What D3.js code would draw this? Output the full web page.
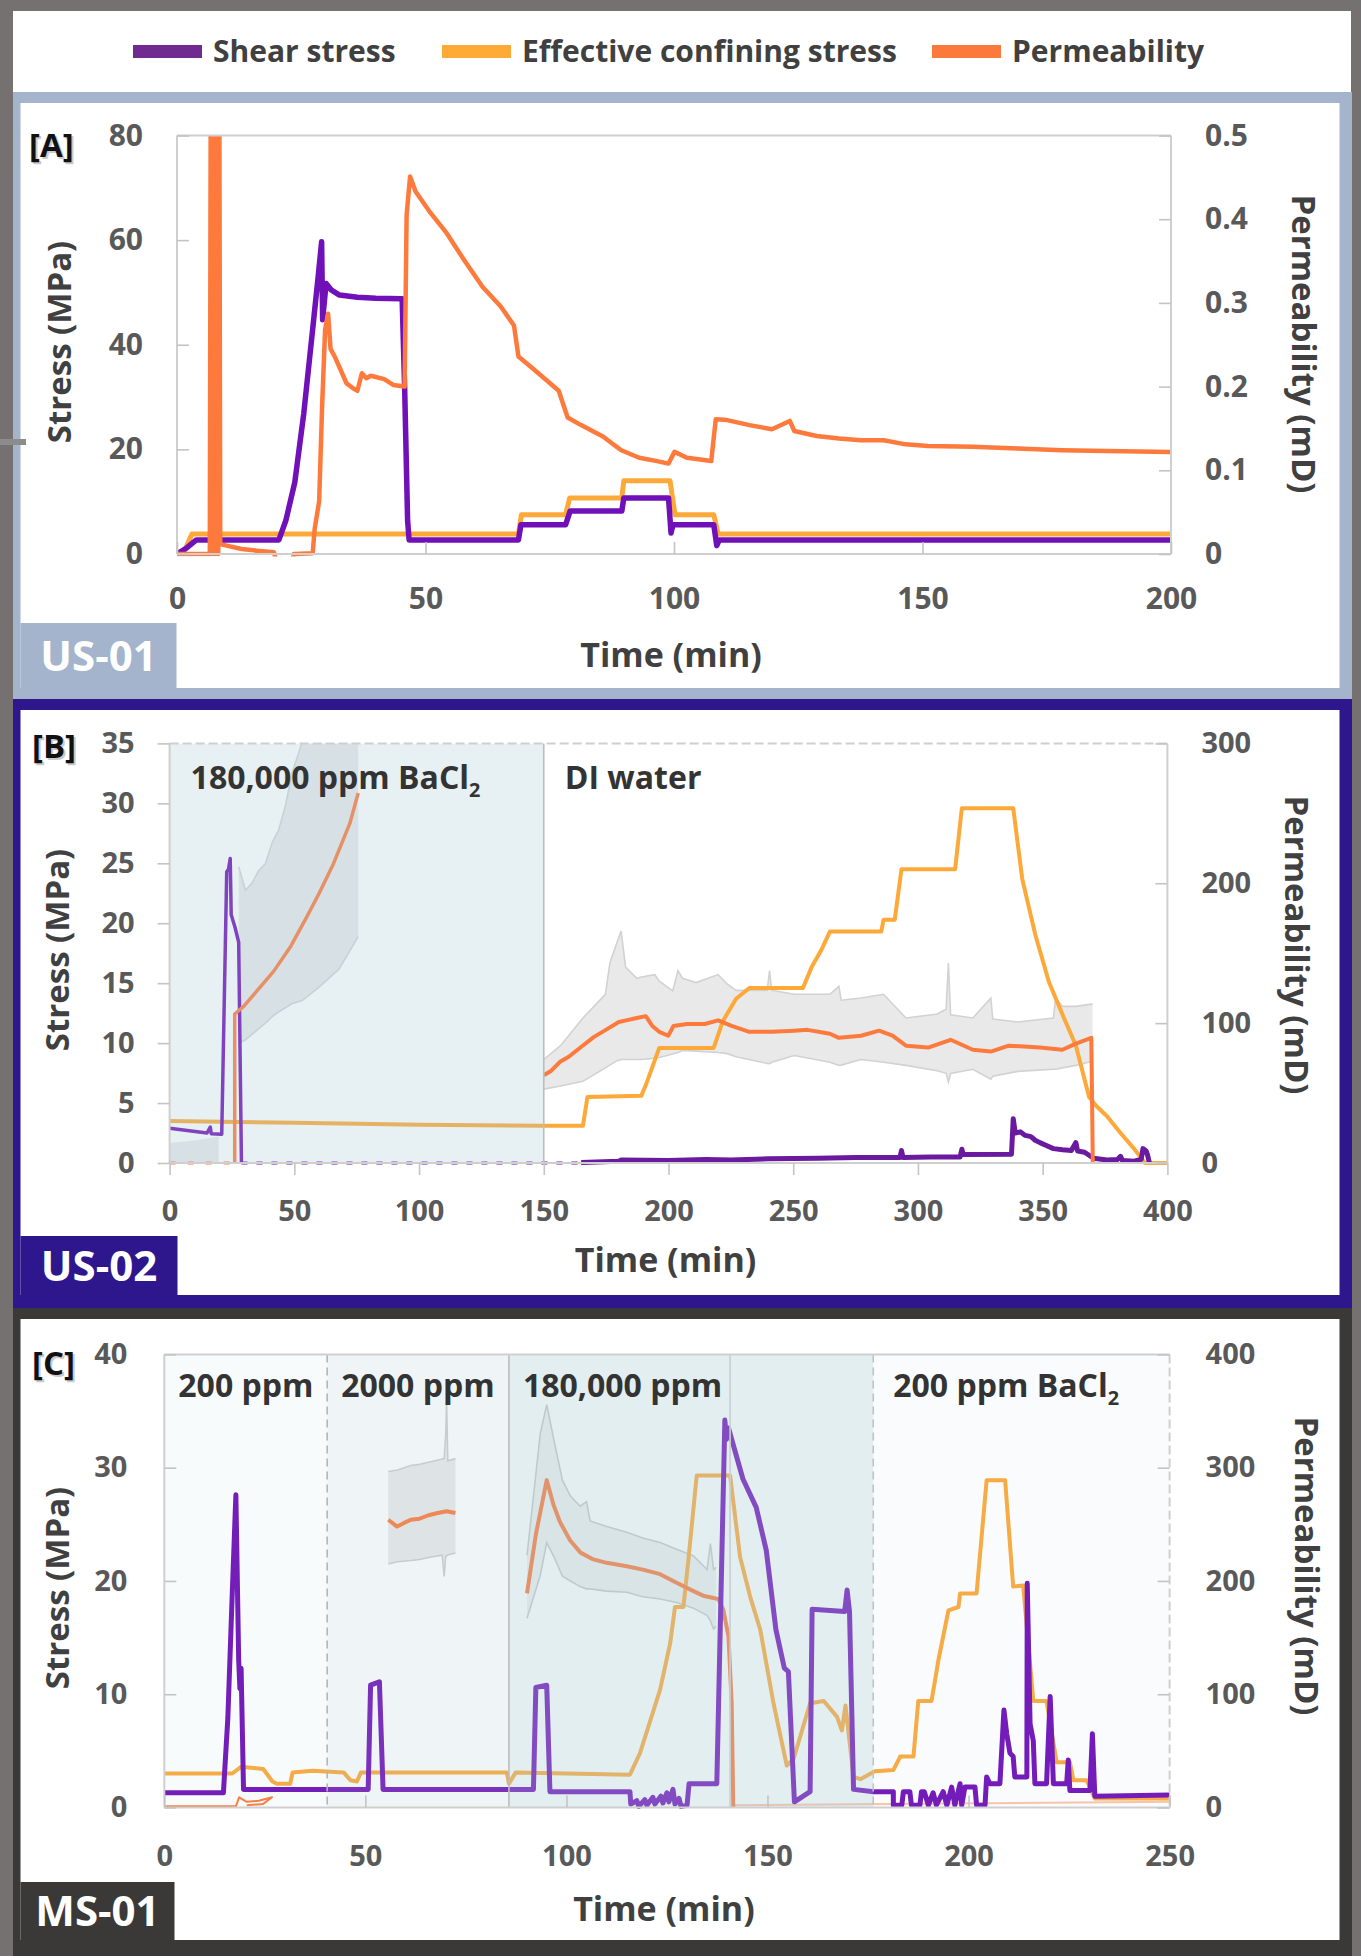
<!DOCTYPE html>
<html>
<head>
<meta charset="utf-8">
<script src="https://cdn.jsdelivr.net/npm/d3@7"></script>
<style>
  body { margin: 0; background: #767171; }
  text { font-family: "Open Sans", "DejaVu Sans", sans-serif; }
</style>
</head>
<body>
<svg id="fig"></svg>
<script>
// ---- data (time in min, stress in MPa, permeability in mD) ----
var legendLabels = ["Shear stress", "Effective confining stress", "Permeability"];
var legendColors = ["#712a8f", "#fdaa37", "#fb7a3b"];

// [A] US-01
var aXTicks = [0, 50, 100, 150, 200];
var aYTicks = [0, 20, 40, 60, 80];
var aY2Ticks = [0, 0.1, 0.2, 0.3, 0.4, 0.5];
var aShear = [[0,0],[2,1.2],[3.9,2.7],[20.5,2.7],[21.9,6.4],[23.7,13.7],[25.5,26.8],[27.3,43],[28.4,53],[29.1,59.7],[29.3,44.8],[30,51.7],[31,50.5],[32.7,49.5],[36.3,49.1],[40,48.9],[45.3,48.8],[45.8,32],[46.4,6.4],[46.7,2.7],[68.7,2.7],[69.2,5.6],[78.2,5.6],[79.1,8.2],[89.5,8.2],[89.9,10.7],[98.9,10.7],[99.4,4.0],[99.8,5.6],[108,5.6],[108.6,1.6],[109.1,2.7],[200,2.7]];
var aConfining = [[0,0],[1.5,0.6],[3,3.8],[68.7,3.8],[69.3,7.5],[78.2,7.5],[79,10.7],[89.5,10.7],[89.9,14],[99.2,14],[100.2,7.5],[108,7.5],[108.9,3.8],[200,3.8]];
var aPerm = [[0,0],[6.6,0],[6.8,0.6],[7.1,0],[7.4,0.6],[7.7,0],[8.0,0.6],[8.3,0],[8.5,0.6],[8.7,0.012],[10,0.01],[13,0.006],[16,0.004],[19.5,0.002],[20.5,-0.02],[23,-0.02],[23.5,0],[27.3,0.001],[27.7,0.03],[28.6,0.063],[29.2,0.177],[29.8,0.268],[30.4,0.287],[30.9,0.245],[31.8,0.235],[32.7,0.223],[34.1,0.204],[35.4,0.198],[36.3,0.195],[37.2,0.216],[38.1,0.21],[39,0.213],[41.7,0.209],[43.5,0.202],[45.8,0.2],[46.2,0.405],[46.9,0.451],[48,0.433],[50.7,0.41],[54.3,0.383],[57.9,0.35],[61.5,0.319],[65.1,0.296],[67.8,0.273],[68.7,0.236],[72.3,0.218],[76.8,0.195],[78.6,0.163],[81.3,0.154],[85.8,0.14],[88,0.13],[89.4,0.124],[93,0.115],[96.6,0.111],[98.9,0.108],[100.1,0.122],[102.6,0.115],[105.3,0.113],[107.5,0.111],[108.4,0.161],[110.7,0.16],[115.2,0.154],[119.7,0.149],[123.3,0.159],[124.2,0.147],[128.7,0.141],[133.2,0.138],[137.6,0.136],[142.2,0.136],[146.6,0.131],[151.1,0.129],[160.1,0.128],[169.1,0.126],[178.1,0.124],[187.1,0.123],[200,0.122]];

// [B] US-02
var bXTicks = [0, 50, 100, 150, 200, 250, 300, 350, 400];
var bYTicks = [0, 5, 10, 15, 20, 25, 30, 35];
var bY2Ticks = [0, 100, 200, 300];
var bRegionBounds = [0, 150, 400];
var bRegionLabels = ["180,000 ppm BaCl", "DI water"];
var bRegionSubs = ["2", ""];
var bShearBrine = [[0,2.9],[15,2.5],[16.3,3.0],[16.7,2.45],[20.9,2.4],[22.9,24.3],[23.6,24.5],[24.3,25.4],[24.7,20.7],[26.3,19.6],[27.7,18.4],[28.8,0]];
var bShearZero = [[28.8,0],[165,0]];
var bShearDI = [[165,0.05],[180,0.15],[181,0.25],[200,0.2],[215,0.3],[225,0.25],[240,0.35],[260,0.4],[275,0.45],[292.8,0.45],[293.4,1.05],[294,0.45],[305,0.5],[316.9,0.5],[317.6,1.15],[318.2,0.7],[337.5,0.73],[338.2,3.7],[339,2.5],[341,2.6],[343,2.3],[345.3,2.2],[347,1.9],[348.9,1.7],[351,1.5],[354.3,1.2],[358,1.1],[361.5,1.05],[363.3,1.7],[364,1.0],[366.8,0.9],[370.4,0.4],[375.8,0.25],[380,0.3],[381.2,0.56],[382,0.2],[386.6,0.15],[389.5,0.3],[390.2,1.2],[391.5,1.0],[392,0.7],[392.8,0]];
var bConfining = [[0,3.5],[50,3.35],[100,3.2],[150,3.1],[165.7,3.1],[167.5,5.5],[189.1,5.6],[190.9,6.5],[196.3,9.6],[218.1,9.6],[221.7,11.8],[227.1,13.7],[232.4,14.6],[253.9,14.6],[257.5,16.4],[261.1,17.7],[264.7,19.3],[285.3,19.3],[286.2,20.3],[290.7,20.3],[293.4,24.5],[314.9,24.5],[317.6,29.6],[338.2,29.6],[341.8,23.7],[347.1,19],[352.5,15.1],[357.9,12.4],[363.3,9.8],[368.6,5.5],[371.3,4.8],[375.8,3.9],[381.2,2.5],[386.6,1.2],[391,0],[400,0]];
var bPermZero = [[0,0],[26.1,0]];
var bPermBrine = [[26.1,0],[26.1,106.5],[29.7,112],[35,123],[41.7,137],[48.6,155],[55,176],[60,193],[65.7,214],[72.3,243],[75.6,264.5]];
var bPermDI = [[150,62.7],[153,66],[156.7,72.6],[160,76],[165.7,84],[170,90],[174.7,95],[180.1,100.8],[183,102],[187.3,103.7],[190.9,105],[193.5,98],[196.3,93.8],[199.9,91],[202,98],[207.4,99.4],[214.5,99.4],[219.9,102],[225.3,98],[232.4,93.8],[241.4,93.8],[250.4,94.6],[255.7,95.2],[264.7,92.4],[268.3,89.5],[277.2,91],[284.4,94.6],[289.8,91],[295.2,83.9],[304.1,82.5],[313.1,88.1],[322,81],[329.2,79.7],[336.4,83.9],[348.9,82.5],[357.9,81],[363.3,85.3],[369.5,89.5],[370.1,0]];
// permeability bands: [t, lower, upper]
var bBandZero = [[0,0,14.3],[10,0,16],[19.7,0,19]];
var bBandBrine = [[27.7,85.6,211.8],[30.4,88,195],[33,92,200],[35.7,96,209],[38.4,100,214],[41.1,104.7,229],[43.7,108,238],[46.4,111,255],[49.1,114,279],[53,116,300],[54.5,118,320],[60,126,340],[67.9,138.6,350],[75.6,161.8,350]];
var bBandDI = [[150,52.8,74],[156.7,55,83.9],[165.7,58.5,103.7],[174.7,68,120.6],[176.5,70,143],[179.2,73,157],[181,74,165.8],[182.8,74,140],[187.3,74,132],[189.1,74,133],[194.5,75,134.7],[196.3,75.4,130],[201.7,78,123],[203.8,79,137.6],[205.6,80.5,132],[211,80,129],[219.9,79,134.7],[223.5,78.2,128],[227.1,76,123.4],[239.6,71.2,123.4],[240.5,71,137.6],[241.4,72,123.4],[250.4,76.8,120.6],[264.7,72,120.6],[268.3,69.8,126.3],[269.2,70,116.4],[277.2,74,118],[286.2,72,120.6],[295.2,69.8,103.7],[307.7,66,106.5],[311.3,64.1,110],[312.2,58,143],[313.1,64,106],[322,67,103.7],[329.2,59.9,117.8],[330,62,103],[340,65.5,100.8],[354.3,67,103.7],[355.2,67,117.8],[357.9,68,112],[363.3,69.8,112],[369.5,72.6,113.6],[370,72.6,113.6]];

// [C] MS-01
var cXTicks = [0, 50, 100, 150, 200, 250];
var cYTicks = [0, 10, 20, 30, 40];
var cY2Ticks = [0, 100, 200, 300, 400];
var cRegionBounds = [0, 40.5, 85.7, 176.3, 250];
var cRegionLabels = ["200 ppm", "2000 ppm", "180,000 ppm", "200 ppm BaCl"];
var cRegionSubs = ["", "", "", "2"];
var cShear = [[0,1.3],[14.7,1.3],[15.8,7.9],[16.9,18.9],[17.8,27.6],[18.5,13],[18.8,10.5],[19.1,12.3],[19.7,1.6],[50.7,1.6],[51.3,10.8],[53.5,11.1],[54.4,1.6],[91.8,1.6],[92.4,10.6],[95.1,10.8],[95.9,1.4],[115.8,1.4],[116,0.3],[117.5,0.6],[118,0.1],[119.5,0.7],[120,0.2],[121.5,0.9],[122,0.3],[123.5,1.0],[124,0.4],[125,1.3],[125.5,0.5],[126.5,1.6],[127,0.3],[128,0.8],[128.5,0.1],[130,0.2],[130.5,2.1],[137.4,2.1],[139.4,34.2],[139.8,32.5],[140.3,33.5],[143.9,29],[147.2,26.5],[149.7,22.7],[152.1,15.7],[154.2,12.3],[155.2,12],[156.7,0.5],[160.6,1.4],[161.1,17.5],[169.2,17.3],[169.8,19.2],[170.4,17.3],[171.4,1.6],[176.4,1.4],[181.3,1.4],[181.3,0.2],[183.4,0.2],[183.8,1.4],[185.4,1.4],[185.8,0.2],[187.9,0.2],[188.3,1.4],[189,1.4],[190,0.2],[191.2,1.3],[192,0.2],[193.7,1.4],[194.6,0.2],[195.8,1.8],[196.6,0.2],[197.9,2.1],[198.3,0.2],[199.1,1.8],[201.6,1.8],[202,0.2],[204.1,0.2],[204.5,2.7],[205.3,2.1],[207.8,2.1],[208.8,8.6],[209.5,6.5],[210.3,4.8],[211.1,4.5],[211.5,2.7],[214.5,2.7],[214.6,19.8],[215.3,7.4],[216.1,5.9],[216.5,2.1],[219.4,2.1],[220.3,9.8],[221.1,2.1],[224.4,2.1],[224.8,4.2],[225.2,1.5],[230.2,1.5],[230.8,6.5],[231.4,1.0],[250,1.1]];
var cConfining = [[0,3.0],[16.9,3.0],[19.1,3.6],[24.6,3.4],[26.9,2.3],[28,2.1],[31.3,2.1],[31.9,3.1],[36.9,3.25],[44.6,3.1],[46.3,2.4],[47.9,2.3],[48.9,3.1],[85.2,3.1],[85.7,2.1],[87.4,3.1],[115.8,2.9],[118.3,4.8],[123.3,10.4],[125.8,14.5],[127,17.7],[129.1,17.7],[130.4,22.1],[132.4,29.3],[140.7,29.3],[143.2,22.1],[145.7,18.6],[148.2,15.7],[151.5,9.2],[154.8,3.7],[156.5,4.3],[160.6,9.2],[164,9.4],[167.3,8],[168.5,6.8],[169.4,9],[171.4,2.7],[173.1,2.5],[176.7,3.2],[181.3,3.3],[183,4.5],[186.3,4.5],[187.5,9.4],[190.8,9.4],[192.5,13],[195,17.4],[197.5,17.7],[197.9,18.9],[202,18.9],[204.5,28.9],[209.1,28.9],[211.1,19.5],[213.6,19.6],[216.1,9.4],[219.4,9.4],[221.9,4.0],[225.2,4.0],[226.1,2.4],[229.4,2.4],[231.4,0.8],[250,0.8]];
var cPermLow1 = [[0,1],[17.8,1],[18.6,9],[20.5,5],[23.5,6],[26.8,9],[24.5,3],[20.5,2]];
var cPerm2000 = [[55.7,254],[57.9,248],[59.5,251],[61.3,254],[63.5,255],[65.7,258],[68,260],[70.2,261.5],[72.4,260]];
var cPerm180k = [[90.2,189],[92.4,241],[95.1,289],[96.8,267],[98.4,252],[100.9,236],[103.5,225],[106.7,219],[110,216],[115,213],[119,210],[123.3,206],[127.4,198.4],[131.6,191],[134,187],[136.6,185],[137.8,184],[139,174.8],[140.3,151],[141.1,92],[141.5,0]];
var cPermLow2 = [[141.5,2],[250,5]];
var cBand2000 = [[55.7,215,296.6],[58,217,298],[61.3,218,302],[63.5,219,303],[66,221,305],[69.1,222.7,307.6],[69.6,204,308],[70,222,330],[70.2,222,359],[70.5,223,306],[72.4,224.6,308]];
var cBand180k = [[90.2,167,222.7],[93.5,205,330],[95.1,233.8,355.7],[96.8,222,326],[99,204.3,289],[101,200,275],[103.4,195,266],[105,193,270],[105.9,193,253],[110,191,248],[115,190,243],[119,186,238],[123.3,184,234],[127.4,181,228],[131.6,176,222],[135,169.4,210],[135.8,165,233],[136.6,157.6,210],[137.2,160,212]];

// ---- page ----
var W = 1361, H = 1956;
var PURPLE = "#7010b8", YELLOW = "#fca93a", ORANGE = "#fd7a3c";
var TINT = "#a9cad5";

var svg = d3.select("#fig").attr("width", W).attr("height", H);
svg.append("rect").attr("width", W).attr("height", H).attr("fill", "#767171");

// legend strip
svg.append("rect").attr("x", 13).attr("y", 11).attr("width", 1338).attr("height", 81).attr("fill", "#fff");
var legX = [133, 442, 932];
legendLabels.forEach(function(lab, i) {
  svg.append("rect").attr("x", legX[i]).attr("y", 45).attr("width", 69).attr("height", 13).attr("fill", legendColors[i]);
  svg.append("text").attr("x", legX[i] + 80).attr("y", 62).attr("font-size", 30).attr("font-weight", 700)
    .attr("fill", "#404040").text(lab);
});

// panel frames
function frame(y, h, color, innerTop, innerBottom) {
  svg.append("rect").attr("x", 13).attr("y", y).attr("width", 1339).attr("height", h).attr("fill", color);
  svg.append("rect").attr("x", 20.5).attr("y", innerTop).attr("width", 1319).attr("height", innerBottom - innerTop).attr("fill", "#fff");
}
frame(92, 607, "#a3b4cc", 103, 688);
frame(699, 609, "#2e168c", 710, 1295);
frame(1308, 648, "#3b3838", 1319, 1940);
svg.append("rect").attr("x", 0).attr("y", 439).attr("width", 26).attr("height", 6).attr("fill", "#8c8c8c");

var line2 = function(x, y) {
  return d3.line().x(function(d) { return x(d[0]); }).y(function(d) { return y(d[1]); });
};

function drawPanel(cfg) {
  var g = svg.append("g");
  var x = d3.scaleLinear().domain(cfg.xDomain).range([cfg.left, cfg.right]);
  var y = d3.scaleLinear().domain(cfg.yDomain).range([cfg.bottom, cfg.top]);
  var y2 = d3.scaleLinear().domain(cfg.y2Domain).range([cfg.bottom, cfg.top]);

  g.append("clipPath").attr("id", cfg.id + "clip").append("rect")
    .attr("x", cfg.left).attr("y", cfg.top).attr("width", cfg.right - cfg.left).attr("height", cfg.bottom - cfg.top + 2.5);
  var plot = g.append("g").attr("clip-path", "url(#" + cfg.id + "clip)");

  // bands
  (cfg.bands || []).forEach(function(b) {
    var area = d3.area().x(function(d) { return x(d[0]); })
      .y0(function(d) { return y2(d[1]); }).y1(function(d) { return y2(d[2]); });
    plot.append("path").datum(b.data).attr("d", area).attr("fill", b.fill);
    if (b.edge) {
      [1, 2].forEach(function(k) {
        plot.append("path").datum(b.data)
          .attr("d", d3.line().x(function(d) { return x(d[0]); }).y(function(d) { return y2(d[k]); }))
          .attr("fill", "none").attr("stroke", b.edge).attr("stroke-width", 1.6);
      });
    }
  });

  // series
  cfg.series.forEach(function(s) {
    plot.append("path").datum(s.data).attr("d", line2(x, s.axis === 2 ? y2 : y))
      .attr("fill", "none").attr("stroke", s.color).attr("stroke-width", s.width)
      .attr("stroke-linejoin", "round").attr("stroke-dasharray", s.dash || null)
      .attr("opacity", s.opacity || 1);
  });

  // tinted regions over the traces
  (cfg.tints || []).forEach(function(t) {
    plot.append("rect").attr("x", x(t.from)).attr("y", cfg.top)
      .attr("width", x(t.to) - x(t.from)).attr("height", cfg.bottom - cfg.top)
      .attr("fill", TINT).attr("opacity", t.opacity);
  });

  // region separators
  (cfg.separators || []).forEach(function(s) {
    g.append("line").attr("x1", x(s.at)).attr("x2", x(s.at)).attr("y1", cfg.top).attr("y2", cfg.bottom)
      .attr("stroke", s.color).attr("stroke-width", 1.6).attr("stroke-dasharray", s.dash || null);
  });

  // plot border
  var bc = "#cfcfcf";
  var edges = [
    [cfg.left, cfg.top, cfg.right, cfg.top, cfg.dashTop],
    [cfg.right, cfg.top, cfg.right, cfg.bottom, cfg.dashRight],
    [cfg.left, cfg.top, cfg.left, cfg.bottom, false],
    [cfg.left, cfg.bottom, cfg.right, cfg.bottom, false]
  ];
  edges.forEach(function(e) {
    g.append("line").attr("x1", e[0]).attr("y1", e[1]).attr("x2", e[2]).attr("y2", e[3])
      .attr("stroke", bc).attr("stroke-width", 2).attr("stroke-dasharray", e[4] ? "9 4" : null);
  });

  // axes
  var tin = cfg.ticksOut ? 12 : -12;
  var fs = cfg.tickFont;
  var ax = d3.axisBottom(x).tickValues(cfg.xTicks).tickSizeInner(tin).tickSizeOuter(0).tickPadding(cfg.xPad);
  var ay = d3.axisLeft(y).tickValues(cfg.yTicks).tickSizeInner(tin).tickSizeOuter(0).tickPadding(cfg.yPad);
  var ay2 = d3.axisRight(y2).tickValues(cfg.y2Ticks).tickSizeInner(-12).tickSizeOuter(0).tickPadding(cfg.y2Pad)
    .tickFormat(cfg.y2Format || d3.format("d"));
  [[ax, "translate(0," + cfg.bottom + ")"], [ay, "translate(" + cfg.left + ",0)"], [ay2, "translate(" + cfg.right + ",0)"]]
    .forEach(function(a) {
      var ga = g.append("g").attr("transform", a[1]).call(a[0]);
      ga.select(".domain").remove();
      ga.selectAll(".tick line").attr("stroke", "#c4c4c4").attr("stroke-width", 1.6);
      ga.selectAll(".tick text").attr("fill", "#595959").attr("font-size", fs).attr("font-weight", 700)
        .attr("font-family", "'Open Sans', sans-serif");
    });

  // region labels
  (cfg.labels || []).forEach(function(l) {
    var t = g.append("text").attr("x", x(l.at) + l.dx).attr("y", cfg.labelY)
      .attr("font-size", cfg.labelFont).attr("font-weight", 700).attr("fill", "#333").text(l.text);
    if (l.sub) t.append("tspan").attr("font-size", cfg.labelFont * 0.62).attr("dy", 8).text(l.sub);
  });

  // titles
  g.append("text").attr("x", (cfg.left + cfg.right) / 2 - 3).attr("y", cfg.xTitleY).attr("text-anchor", "middle")
    .attr("font-size", 34).attr("font-weight", 700).attr("fill", "#404040").text("Time (min)");
  g.append("text").attr("transform", "translate(" + cfg.yTitleX + "," + cfg.yTitleY + ") rotate(-90)")
    .attr("text-anchor", "middle").attr("dy", "0.35em").attr("font-size", 33).attr("font-weight", 700)
    .attr("fill", "#404040").text("Stress (MPa)");
  g.append("text").attr("transform", "translate(" + cfg.y2TitleX + "," + cfg.y2TitleY + ") rotate(90)")
    .attr("text-anchor", "middle").attr("dy", "0.35em").attr("font-size", 33).attr("font-weight", 700)
    .attr("fill", "#404040").text("Permeability (mD)");

  // panel letter and sample tag
  g.append("text").attr("x", cfg.letterX + 2).attr("y", cfg.letterY + 2).attr("font-size", 33).attr("font-weight", 700)
    .attr("fill", "#999").attr("opacity", 0.5).text(cfg.letter);
  g.append("text").attr("x", cfg.letterX).attr("y", cfg.letterY).attr("font-size", 33).attr("font-weight", 700)
    .attr("fill", "#111").text(cfg.letter);
  g.append("rect").attr("x", cfg.tag[0]).attr("y", cfg.tag[1]).attr("width", cfg.tag[2]).attr("height", cfg.tag[3])
    .attr("fill", cfg.tagColor);
  g.append("text").attr("x", cfg.tag[0] + cfg.tag[2] / 2).attr("y", cfg.tag[1] + cfg.tag[3] / 2)
    .attr("dy", "0.36em").attr("text-anchor", "middle").attr("font-size", 42).attr("font-weight", 700)
    .attr("fill", "#fff").text(cfg.tagText);
}

// [A]
drawPanel({
  id: "a", left: 177, right: 1171, top: 135.5, bottom: 554,
  xDomain: [0, 200], yDomain: [0, 80], y2Domain: [0, 0.5],
  xTicks: aXTicks, yTicks: aYTicks, y2Ticks: aY2Ticks,
  y2Format: function(d) { return d === 0 ? "0" : d3.format(".1f")(d); },
  ticksOut: false, tickFont: 30, xPad: 34, yPad: 34, y2Pad: 34,
  series: [
    { data: aConfining, color: YELLOW, width: 5 },
    { data: aShear, color: PURPLE, width: 5.5 },
    { data: aPerm, color: ORANGE, width: 4.5, axis: 2 }
  ],
  xTitleY: 667, yTitleX: 59, yTitleY: 342, y2TitleX: 1304, y2TitleY: 344,
  letter: "[A]", letterX: 29, letterY: 157,
  tag: [20.5, 623, 156, 65], tagColor: "#a3b4cc", tagText: "US-01"
});

// [B]
drawPanel({
  id: "b", left: 169.6, right: 1167.4, top: 743.4, bottom: 1163,
  xDomain: [0, 400], yDomain: [0, 35], y2Domain: [0, 300],
  xTicks: bXTicks, yTicks: bYTicks, y2Ticks: bY2Ticks,
  ticksOut: true, tickFont: 29, xPad: 25, yPad: 23, y2Pad: 34,
  dashTop: true,
  bands: [
    { data: bBandZero, fill: "#e9eaec" },
    { data: bBandBrine, fill: "#e9eaec", edge: "#d3d6d8" },
    { data: bBandDI, fill: "#e9e9e9", edge: "#d2d2d2" }
  ],
  series: [
    { data: bConfining, color: YELLOW, width: 4 },
    { data: bShearZero, color: PURPLE, width: 3, dash: "6 9" },
    { data: bPermZero, color: ORANGE, width: 3, dash: "6 12", axis: 2 },
    { data: bShearBrine, color: PURPLE, width: 3.5 },
    { data: bShearDI, color: "#6a1a9e", width: 5 },
    { data: bPermBrine, color: ORANGE, width: 3.5, axis: 2 },
    { data: bPermDI, color: ORANGE, width: 4, axis: 2 }
  ],
  tints: [{ from: bRegionBounds[0], to: bRegionBounds[1], opacity: 0.28 }],
  separators: [{ at: bRegionBounds[1], color: "#bdbdbd" }],
  labels: bRegionLabels.map(function(t, i) { return { at: bRegionBounds[i], dx: 21, text: t, sub: bRegionSubs[i] }; }),
  labelY: 789, labelFont: 32,
  xTitleY: 1272, yTitleX: 57, yTitleY: 950, y2TitleX: 1297, y2TitleY: 945,
  letter: "[B]", letterX: 32, letterY: 758,
  tag: [20.5, 1236, 157, 59.5], tagColor: "#2e168c", tagText: "US-02"
});

// [C]
drawPanel({
  id: "c", left: 164.3, right: 1169.6, top: 1354.4, bottom: 1807.5,
  xDomain: [0, 250], yDomain: [0, 40], y2Domain: [0, 400],
  xTicks: cXTicks, yTicks: cYTicks, y2Ticks: cY2Ticks,
  ticksOut: false, tickFont: 29, xPad: 38, yPad: 37, y2Pad: 36,
  dashRight: true,
  bands: [
    { data: cBand2000, fill: "#ebebeb", edge: "#cfcfcf" },
    { data: cBand180k, fill: "#f0f0f0", edge: "#c9cbcc" }
  ],
  series: [
    { data: cPermLow1, color: ORANGE, width: 2, axis: 2 },
    { data: cPermLow2, color: ORANGE, width: 2, axis: 2, opacity: 0.45 },
    { data: cConfining, color: YELLOW, width: 4 },
    { data: cPerm2000, color: ORANGE, width: 4, axis: 2 },
    { data: cPerm180k, color: ORANGE, width: 4, axis: 2 },
    { data: cShear, color: PURPLE, width: 5 }
  ],
  tints: [
    { from: cRegionBounds[0], to: cRegionBounds[1], opacity: 0.08 },
    { from: cRegionBounds[1], to: cRegionBounds[2], opacity: 0.18 },
    { from: cRegionBounds[2], to: cRegionBounds[3], opacity: 0.32 },
    { from: cRegionBounds[3], to: cRegionBounds[4], opacity: 0.07 }
  ],
  separators: [
    { at: cRegionBounds[1], color: "#b5b5b5", dash: "8 5" },
    { at: cRegionBounds[2], color: "#bdbdbd" },
    { at: 140.7, color: "#c9cfd1" },
    { at: cRegionBounds[3], color: "#c2c2c2", dash: "8 5" }
  ],
  labels: cRegionLabels.map(function(t, i) { return { at: cRegionBounds[i], dx: i === 3 ? 20 : 14, text: t, sub: cRegionSubs[i] }; }),
  labelY: 1397, labelFont: 32,
  xTitleY: 1921, yTitleX: 57, yTitleY: 1588, y2TitleX: 1307, y2TitleY: 1566,
  letter: "[C]", letterX: 32, letterY: 1375,
  tag: [20.5, 1882, 154, 58], tagColor: "#3b3838", tagText: "MS-01"
});
</script>
</body>
</html>
